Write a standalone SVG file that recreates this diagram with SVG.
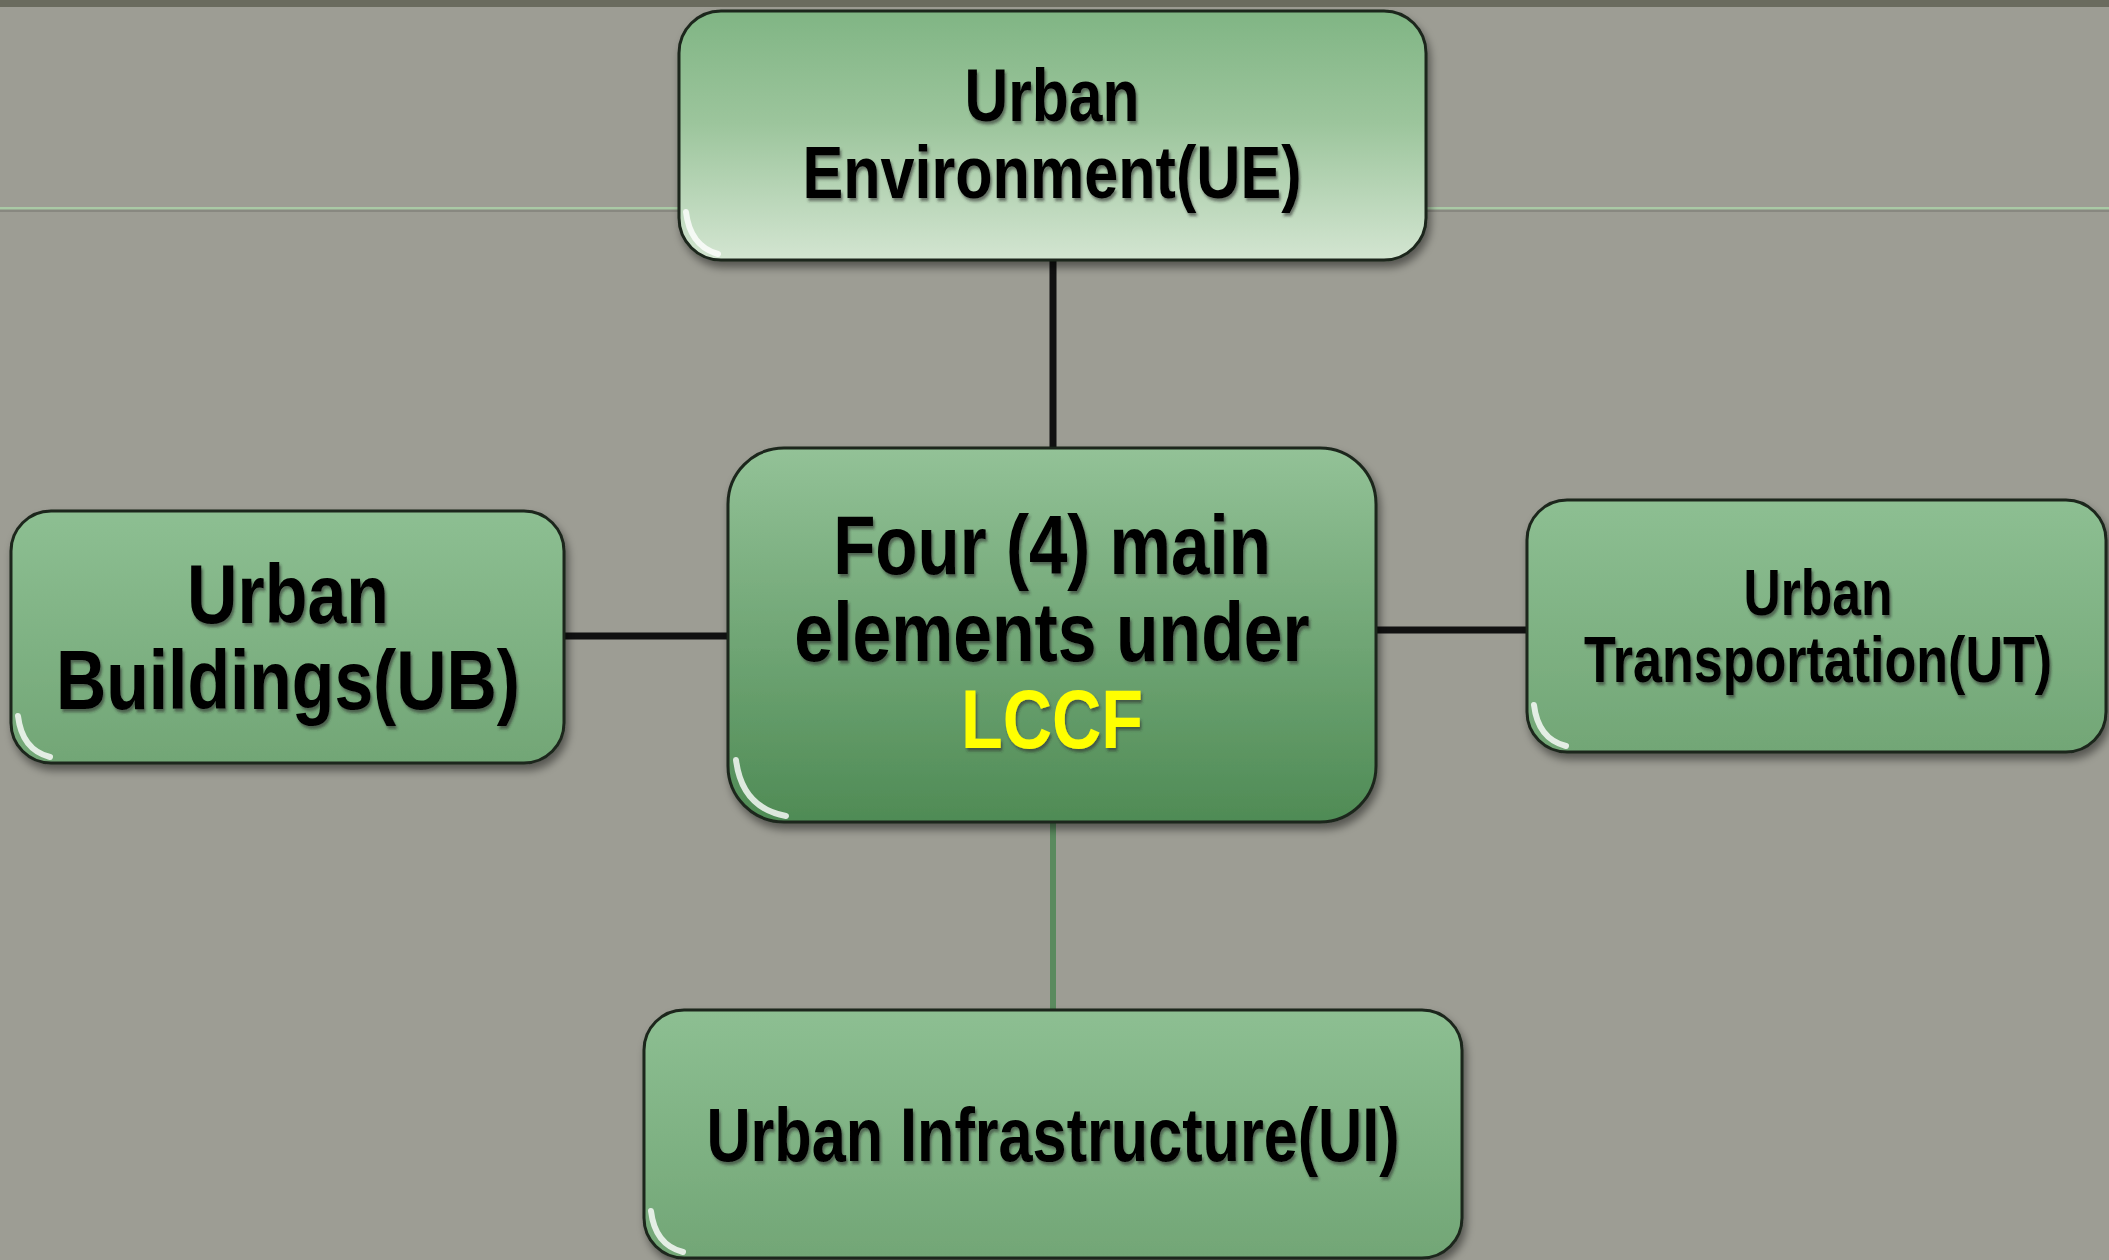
<svg xmlns="http://www.w3.org/2000/svg" width="2109" height="1260" viewBox="0 0 2109 1260">
<defs>
<linearGradient id="gUE" x1="0" y1="0" x2="0" y2="1">
<stop offset="0" stop-color="#80b584"/><stop offset="0.45" stop-color="#9cc59c"/><stop offset="1" stop-color="#d3e5d1"/>
</linearGradient>
<linearGradient id="gC" x1="0" y1="0" x2="0" y2="1">
<stop offset="0" stop-color="#93c297"/><stop offset="1" stop-color="#4f8b55"/>
</linearGradient>
<linearGradient id="gN" x1="0" y1="0" x2="0" y2="1">
<stop offset="0" stop-color="#8dbf92"/><stop offset="1" stop-color="#72a676"/>
</linearGradient>
<filter id="boxShadow" x="-10%" y="-10%" width="120%" height="130%">
<feDropShadow dx="3" dy="6" stdDeviation="4" flood-color="#000" flood-opacity="0.45"/>
</filter>
<filter id="txtShadow" x="-5%" y="-20%" width="110%" height="140%">
<feDropShadow dx="2" dy="3" stdDeviation="1.5" flood-color="#2a2a2a" flood-opacity="0.6"/>
</filter>
</defs>
<style>
.box{stroke:#1c261c;stroke-width:3;filter:url(#boxShadow)}
.gloss{fill:none;stroke:#ffffff;stroke-opacity:0.8;stroke-width:6;stroke-linecap:round}
.t{font-family:"Liberation Sans",Arial,sans-serif;font-weight:bold;fill:#000;text-anchor:middle;filter:url(#txtShadow)}
.conn{stroke:#111;stroke-width:7;fill:none}
.connG{stroke:#5a8a5e;stroke-width:6;fill:none}
</style>
<rect width="2109" height="1260" fill="#9d9d94"/>
<rect width="2109" height="7" fill="#6a6b5e"/>
<rect x="0" y="209" width="2109" height="3" fill="#7f7f77" opacity="0.7"/>
<rect x="0" y="207" width="2109" height="2.5" fill="#a9c9a5"/>

<g id="connectors">
<line class="conn" x1="1053" y1="258" x2="1053" y2="450"/>
<line class="conn" x1="562" y1="636" x2="730" y2="636"/>
<line class="conn" x1="1374" y1="630" x2="1529" y2="630"/>
<line class="connG" x1="1053" y1="820" x2="1053" y2="1012"/>
</g>

<g id="node-ue">
<rect class="box" x="679" y="11" width="747" height="249" rx="42" fill="url(#gUE)"/>
<path class="gloss" d="M686 212 Q690 246 718 254"/>
<text class="t" font-size="74" transform="translate(1052,121) scale(0.818,1)">Urban</text>
<text class="t" font-size="74" transform="translate(1052,198) scale(0.826,1)">Environment(UE)</text>
</g>

<g id="node-center">
<rect class="box" x="728" y="448" width="648" height="374" rx="56" fill="url(#gC)"/>
<path class="gloss" d="M736 760 Q742 808 786 816"/>
<text class="t" font-size="84" transform="translate(1052,574) scale(0.823,1)">Four (4) main</text>
<text class="t" font-size="84" transform="translate(1052,661) scale(0.83,1)">elements under</text>
<text class="t" font-size="84" transform="translate(1052,748) scale(0.813,1)" style="fill:#ffff00">LCCF</text>
</g>

<g id="node-ub">
<rect class="box" x="11" y="511" width="553" height="252" rx="40" fill="url(#gN)"/>
<path class="gloss" d="M18 716 Q22 750 50 757"/>
<text class="t" font-size="84" transform="translate(288,623) scale(0.832,1)">Urban</text>
<text class="t" font-size="84" transform="translate(288,709) scale(0.829,1)">Buildings(UB)</text>
</g>

<g id="node-ut">
<rect class="box" x="1527" y="500" width="579" height="252" rx="40" fill="url(#gN)"/>
<path class="gloss" d="M1534 705 Q1538 739 1566 746"/>
<text class="t" font-size="64" transform="translate(1818,615) scale(0.806,1)">Urban</text>
<text class="t" font-size="64" transform="translate(1818,682) scale(0.813,1)">Transportation(UT)</text>
</g>

<g id="node-ui">
<rect class="box" x="644" y="1010" width="818" height="248" rx="40" fill="url(#gN)"/>
<path class="gloss" d="M651 1211 Q655 1245 683 1252"/>
<text class="t" font-size="76" transform="translate(1053,1161) scale(0.805,1)">Urban Infrastructure(UI)</text>
</g>
</svg>
